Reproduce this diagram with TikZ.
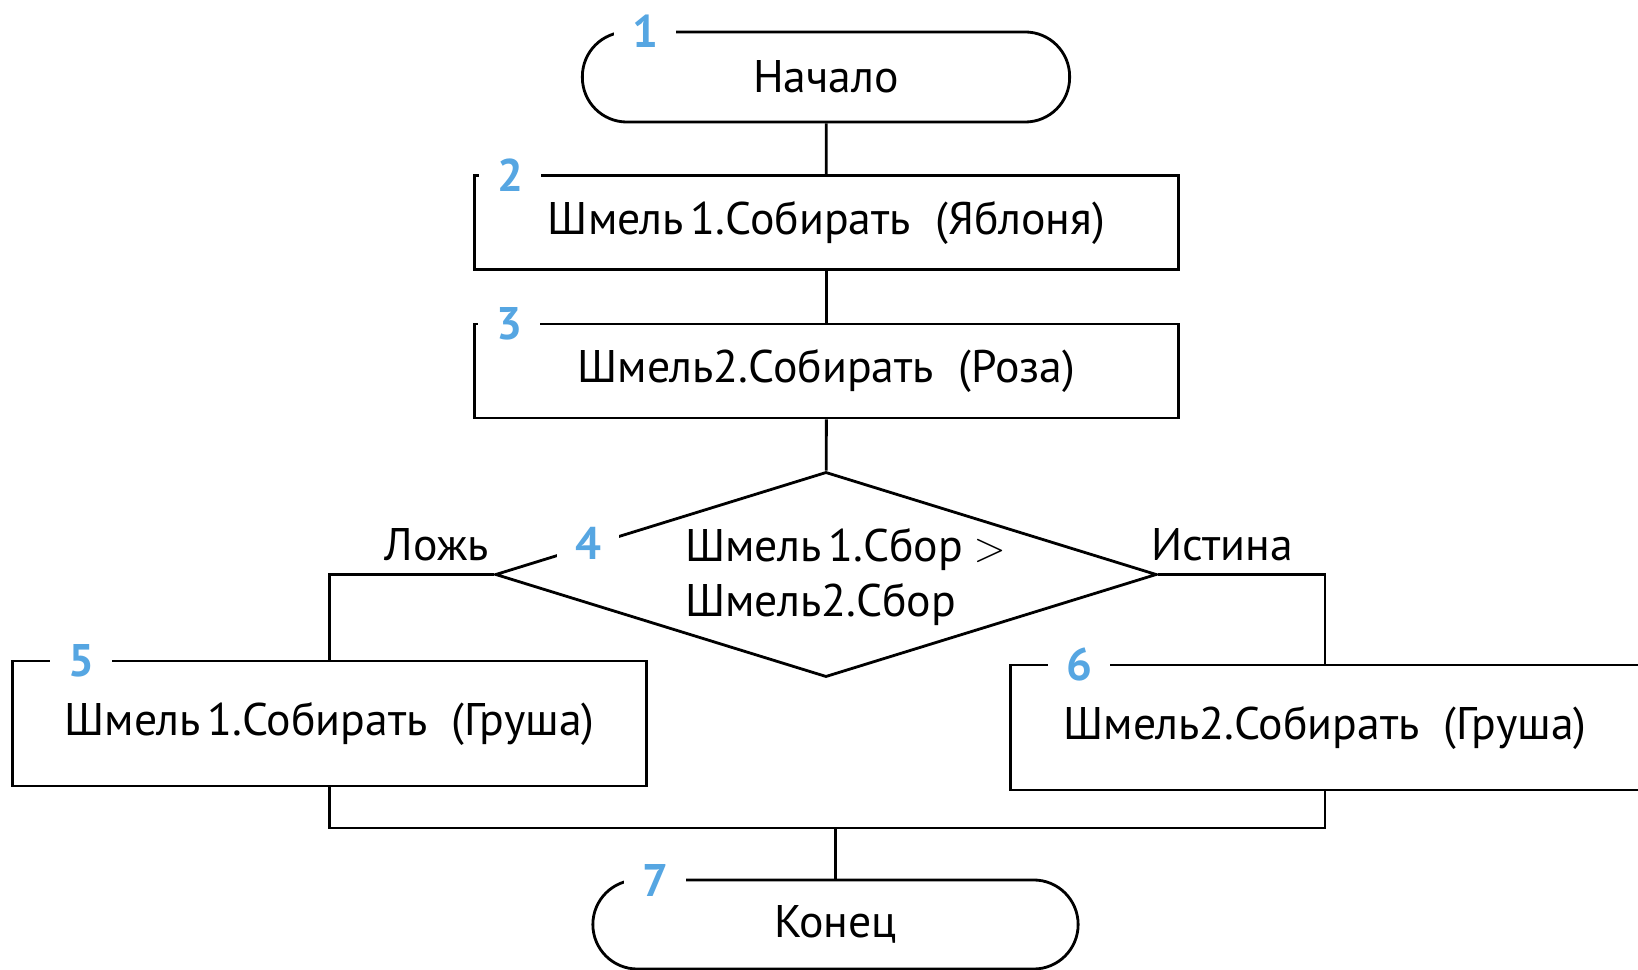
\documentclass[tikz,border=0pt]{standalone}
\usepackage{fontspec}
\setmainfont{PT Sans}
\usetikzlibrary{shapes.geometric}
\definecolor{numblue}{RGB}{86,166,226}

\begin{document}
\begin{tikzpicture}[x=0.01cm,y=-0.01cm,line width=0.8pt,
    font=\fontsize{13}{15.5}\selectfont,
    term/.style={draw,rectangle,rounded corners=0.445cm,minimum width=4.87cm,minimum height=0.9cm,inner sep=0pt},
    proc/.style={draw,rectangle,minimum width=7.03cm,minimum height=0.94cm,inner sep=0pt},
    decision/.style={draw,diamond,minimum width=6.61cm,minimum height=2.05cm,inner sep=0pt},
    num/.style={fill=white,text=numblue,font=\fontsize{13}{15}\selectfont\bfseries,inner xsep=5pt,inner ysep=1pt}]
    \useasboundingbox (0,0) rectangle (1638,970);

    %blocks
    \node[term] (start) at (826,77) {Начало};
    \node[proc] (b2) at (826.5,222.5) {Шмель\kern2pt1.Собирать\ \ (Яблоня)};
    \node[proc] (b3) at (826.5,371) {Шмель2.Собирать\ \ (Роза)};
    \node[decision] (d4) at (826,574.5) {};
    \node[align=left,anchor=west,inner sep=0pt] (d4text) at (684,577) {Шмель\kern2pt1.Сбор\kern3pt$>$\\Шмель2.Сбор};
    \node[proc,minimum width=6.33cm,minimum height=1.25cm] (b5) at (329.5,723.5) {Шмель\kern2pt1.Собирать\ \ (Груша)};
    \node[proc,minimum width=6.28cm,minimum height=1.25cm] (b6) at (1325,727.5) {Шмель2.Собирать\ \ (Груша)};
    \node[term,minimum width=4.85cm,minimum height=0.89cm] (end) at (835.5,924.5) {Конец};
    \coordinate (merge) at (835.5,828);

    %lines
    \draw (start) -- (b2);
    \draw (b2) -- (b3);
    \draw (b3) -- (d4);
    \draw (d4.west) -| (b5.north);
    \draw (d4.east) -| (b6.north);
    \draw (b5.south) |- (merge) -| (b6.south);
    \draw (merge) -- (end);

    %branch labels
    \node (no) at (437,545) {Ложь};
    \node (yes) at (1222,545) {Истина};

    %numbers
    \node[num] (n1) at (645,31) {1};
    \node[num] (n2) at (510,175) {2};
    \node[num] (n3) at (509,324) {3};
    \node[num] (n4) at (588,543) {4};
    \node[num] (n5) at (81,661) {5};
    \node[num] (n6) at (1079,665) {6};
    \node[num] (n7) at (655,880) {7};
\end{tikzpicture}
\end{document}
